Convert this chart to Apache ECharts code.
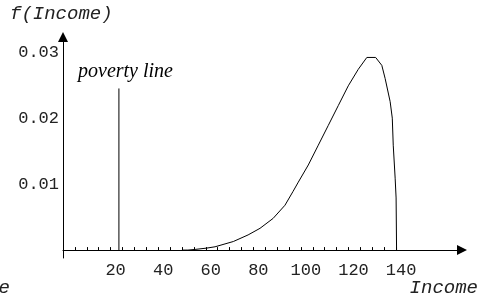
<!DOCTYPE html>
<html>
<head>
<meta charset="utf-8">
<script src="https://cdn.jsdelivr.net/npm/echarts@6/dist/echarts.min.js"></script>
<style>
  html, body { margin: 0; padding: 0; background: #fff; }
  #chart { width: 478px; height: 298px; }
</style>
</head>
<body>
<div id="chart"></div>
<script>
// density curve
var incomeX = [50, 52.5, 55.5, 60.4, 63.9, 71.6, 77.8, 82.8, 88.3, 93.3, 96.7, 98.9, 103.1, 107.3,
    111.5, 115.7, 119.9, 124.1, 127.7, 131.4, 134.0, 135.4, 137.5, 138.4, 138.8, 139.6, 140.0, 140.2];
var densityY = [0, 0, 0.0001, 0.0003, 0.0005, 0.0013, 0.0023, 0.0033, 0.0048, 0.0068, 0.0089, 0.0103, 0.0129, 0.0159,
    0.0189, 0.0219, 0.0249, 0.0274, 0.0292, 0.0292, 0.0280, 0.0260, 0.0225, 0.0200, 0.0159, 0.0109, 0.0079, 0];

var povertyX = [23.5, 23.5];
var povertyY = [0, 0.0245];

var xTickLabels = [20, 40, 60, 80, 100, 120, 140];
var xMinorTicks = [0, 5, 10, 15, 20, 25, 30, 35, 40, 45, 50, 55, 60, 65, 70, 75, 80, 85, 90, 95,
    100, 105, 110, 115, 120, 125, 130, 135, 140];
var yTickLabels = [0.01, 0.02, 0.03];

var chart = echarts.init(document.getElementById('chart'));

function pairs(xs, ys) {
    var out = [];
    for (var i = 0; i < xs.length; i++) out.push([xs[i], ys[i]]);
    return out;
}

var monoFont = '"Liberation Mono", monospace';

var option = {
    animation: false,
    backgroundColor: '#fff',
    grid: { left: 63, right: 16, top: 37, bottom: 40 },
    xAxis: {
        type: 'value',
        min: 0,
        max: 167.7,
        axisLine: {
            onZero: true,
            symbol: ['none', 'triangle'],
            symbolSize: [10, 10],
            lineStyle: { color: '#000', width: 1 }
        },
        axisTick: {
            show: true,
            inside: true,
            length: 3,
            customValues: xMinorTicks,
            lineStyle: { color: '#000' }
        },
        axisLabel: {
            customValues: xTickLabels,
            margin: 4,
            fontFamily: monoFont,
            fontSize: 17,
            color: '#222',
            padding: [0, 0, 0, 10]
        },
        splitLine: { show: false }
    },
    yAxis: {
        type: 'value',
        min: -0.0012,
        max: 0.0323,
        axisLine: {
            onZero: false,
            symbol: ['none', 'triangle'],
            symbolSize: [10, 10],
            lineStyle: { color: '#000', width: 1 }
        },
        axisTick: { show: false },
        axisLabel: {
            customValues: yTickLabels,
            margin: 4,
            fontFamily: monoFont,
            fontSize: 17,
            color: '#222',
            padding: [0, 0, 4, 0],
            formatter: function (v) { return v.toFixed(2); }
        },
        splitLine: { show: false }
    },
    graphic: [
        { type: 'text', left: 10, top: 4,
          style: { text: 'f(Income)', font: 'italic 19px "Liberation Mono", monospace', fill: '#222' } },
        { type: 'text', right: 0, top: 278,
          style: { text: 'Income', font: 'italic 19px "Liberation Mono", monospace', fill: '#222' } },
        { type: 'text', x: 10, y: 278,
          style: { text: 'Income', textAlign: 'right', font: 'italic 19px "Liberation Mono", monospace', fill: '#222' } },
        { type: 'text', left: 78, top: 62,
          style: { text: 'poverty line', font: 'italic 20px "Liberation Serif", serif', fill: '#000' } }
    ],
    series: [
        {
            type: 'line',
            data: pairs(incomeX, densityY),
            showSymbol: false,
            smooth: false,
            lineStyle: { color: '#000', width: 1 }
        },
        {
            type: 'line',
            data: pairs(povertyX, povertyY),
            showSymbol: false,
            lineStyle: { color: '#000', width: 1 }
        }
    ]
};

chart.setOption(option);
</script>
</body>
</html>
